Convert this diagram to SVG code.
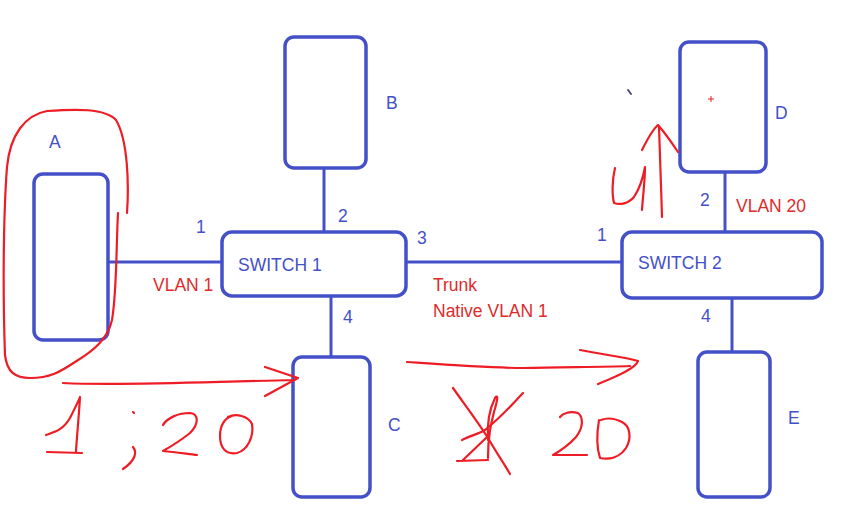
<svg xmlns="http://www.w3.org/2000/svg" width="850" height="513" viewBox="0 0 850 513">
<style>
.box{fill:#fff;stroke:#4450c8;stroke-width:3.5}
.ln{stroke:#4450c8;stroke-width:3;fill:none}
.t{font-family:"Liberation Sans",Arial,sans-serif;font-size:17.5px;fill:#4450c8}
.r{font-family:"Liberation Sans",Arial,sans-serif;font-size:17.5px;fill:#e02a2a}
.ink{fill:none;stroke:#ee1c24;stroke-width:2.2;stroke-linecap:round;stroke-linejoin:round}
</style>
<rect width="850" height="513" fill="#fff"/>
<g id="connectors">
<line class="ln" x1="108" y1="262" x2="222" y2="262"/>
<line class="ln" x1="324" y1="168" x2="324" y2="232"/>
<line class="ln" x1="331" y1="296" x2="331" y2="357"/>
<line class="ln" x1="406" y1="262" x2="622" y2="262"/>
<line class="ln" x1="725" y1="172" x2="725" y2="232"/>
<line class="ln" x1="732" y1="298" x2="732" y2="352"/>
</g>
<g id="nodeA"><rect class="box" x="34" y="174" width="74" height="166" rx="9"/><text class="t" x="49" y="148">A</text></g>
<g id="nodeB"><rect class="box" x="285" y="37" width="81" height="131" rx="9"/><text class="t" x="386" y="109">B</text></g>
<g id="nodeC"><rect class="box" x="293" y="357" width="77" height="140" rx="9"/><text class="t" x="388" y="431">C</text></g>
<g id="nodeD"><rect class="box" x="680" y="42" width="86" height="130" rx="9"/><text class="t" x="775" y="119">D</text></g>
<g id="nodeE"><rect class="box" x="698" y="352" width="72" height="145" rx="9"/><text class="t" x="788" y="424">E</text></g>
<g id="switch1"><rect class="box" x="222" y="232" width="184" height="64" rx="10"/><text class="t" x="238" y="271">SWITCH 1</text></g>
<g id="switch2"><rect class="box" x="622" y="232" width="200" height="66" rx="10"/><text class="t" x="638" y="269">SWITCH 2</text></g>
<g id="labels">
<text class="t" x="196" y="233">1</text>
<text class="t" x="338" y="222">2</text>
<text class="t" x="417" y="244">3</text>
<text class="t" x="343" y="323">4</text>
<text class="r" x="153" y="291">VLAN 1</text>
<text class="r" x="433" y="291">Trunk</text>
<text class="r" x="433" y="317">Native VLAN 1</text>
<text class="t" x="597" y="241">1</text>
<text class="t" x="700" y="206">2</text>
<text class="r" x="736" y="212">VLAN 20</text>
<text class="t" x="701" y="322">4</text>
</g>
<g id="annotations">
<path class="ink" d="M127,213 C129,185 128,140 116,120 C105,108 75,109 47,111 C25,115 10,135 7,167 C3,220 3,300 5,355 C7,372 15,378 30,378 C50,378 60,372 75,362 C95,350 108,338 112,320 C117,290 116,250 118,213"/>
<path class="ink" d="M63,383 C120,386 200,382 295,380 M265,367 L298,378 L265,396"/>
<path class="ink" d="M46,435 C55,432 63,430 70,418 C75,408 79,400 80,397 C79,415 77,435 76,451 M47,452 L82,453"/>
<path class="ink" d="M133,412 L134,413 M133,447 C137,452 136,460 123,469"/>
<path class="ink" d="M163,425 C167,418 178,413 190,413 C199,414 199,424 190,433 C180,441 170,447 163,451 C175,452 188,454 197,455"/>
<path class="ink" d="M228,417 C236,413 248,416 252,424 C254,436 248,450 237,453 C225,455 220,447 220,436 C220,425 225,418 232,416"/>
<path class="ink" d="M407,362 C450,365 490,368 523,368 C560,367 600,367 630,366 M580,350 C605,355 625,357 638,361 C636,368 618,376 598,384"/>
<path class="ink" d="M453,388 C465,405 478,422 488,438 C496,452 505,465 510,474"/>
<path class="ink" d="M462,440 C470,436 478,434 485,430 C500,418 512,405 523,393"/>
<path class="ink" d="M488,440 C487,425 489,410 495,398 C499,393 497,402 494,412 C491,424 488,436 488,458 M487,437 L463,460 M457,461 L488,460"/>
<path class="ink" d="M560,417 C563,413 570,411 578,413 C584,418 583,428 576,437 C568,446 560,451 553,455 C565,455 577,455 587,455"/>
<path class="ink" d="M599,420 C597,432 596,446 600,458 C610,460 620,457 626,448 C632,438 630,426 622,422 C614,418 606,418 601,420"/>
<path class="ink" d="M615,168 C612,180 612,195 614,203 C620,205 628,204 634,197 C640,188 643,178 645,167 C645,180 643,195 642,210"/>
<path class="ink" d="M662,217 C661,185 660,150 659,127 M642,150 C647,140 652,130 658,125 C665,133 672,143 678,152"/>
<path d="M708,99 H714 M711,96 V102" stroke="#ee1c24" stroke-width="1"/>
<path d="M628,90 L631,94" stroke="#4a4a80" stroke-width="2" stroke-linecap="round"/>
</g>
</svg>
